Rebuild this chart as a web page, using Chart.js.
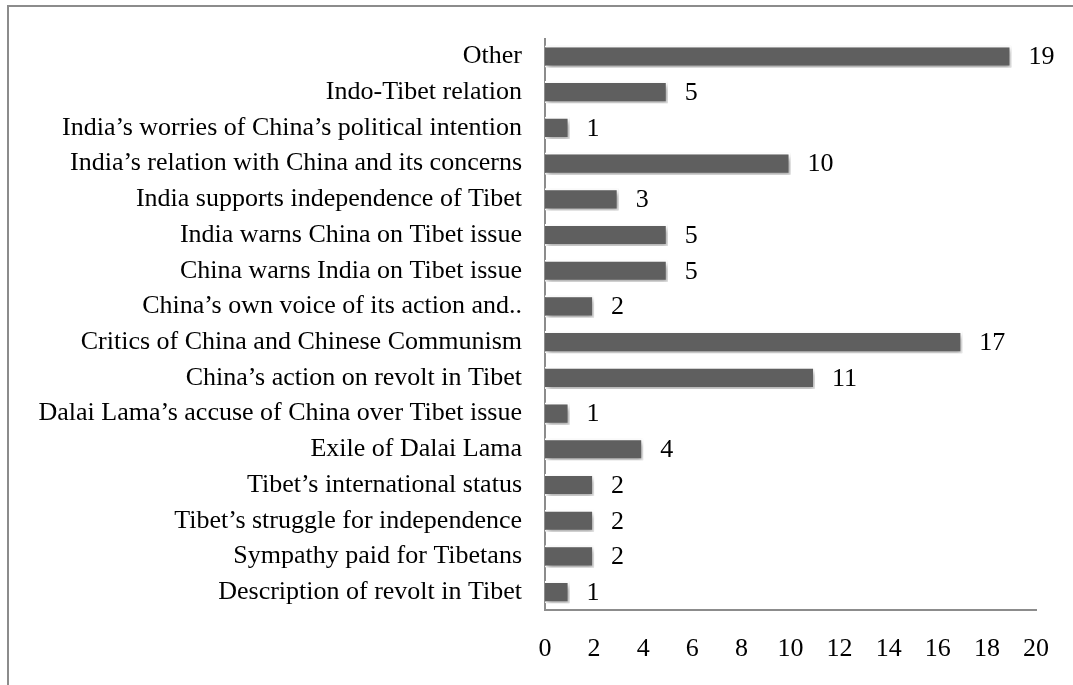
<!DOCTYPE html>
<html>
<head>
<meta charset="utf-8">
<script src="https://cdn.jsdelivr.net/npm/chart.js@4/dist/chart.umd.min.js"></script>
<style>
  html, body { margin: 0; padding: 0; background: #fff; }
  #wrap { position: relative; width: 1073px; height: 685px; overflow: hidden; }
  #frame { position: absolute; left: 7px; top: 5px; width: 1100px; height: 700px;
           border-left: 2px solid #8c8c8c; border-top: 2px solid #8c8c8c; }
  canvas { position: absolute; left: 0; top: 0; }
</style>
</head>
<body>
<div id="wrap">
  <div id="frame"></div>
  <canvas id="topicChart" width="1073" height="685"></canvas>
</div>
<script>
const topics = [
    'Other',
    'Indo-Tibet relation',
    'India’s worries of China’s political intention',
    'India’s relation with China and its concerns',
    'India supports independence of Tibet',
    'India warns China on Tibet issue',
    'China warns India on Tibet issue',
    'China’s own voice of its action and..',
    'Critics of China and Chinese Communism',
    'China’s action on revolt in Tibet',
    'Dalai Lama’s accuse of China over Tibet issue',
    'Exile of Dalai Lama',
    'Tibet’s international status',
    'Tibet’s struggle for independence',
    'Sympathy paid for Tibetans',
    'Description of revolt in Tibet',
];
const counts = [19, 5, 1, 10, 3, 5, 5, 2, 17, 11, 1, 4, 2, 2, 2, 1];
const axisMin = 0;
const axisMax = 20;
const axisStep = 2;

const serif = "'Liberation Serif', 'DejaVu Serif', serif";
const fontSize = 26;

// soft drop shadow behind the bars
const barShadow = {
    id: 'barShadow',
    beforeDatasetsDraw(chart) {
        const c = chart.ctx;
        c.save();
        c.shadowColor = 'rgba(0, 0, 0, 0.35)';
        c.shadowBlur = 5;
        c.shadowOffsetX = 2;
        c.shadowOffsetY = 3;
    },
    afterDatasetsDraw(chart) {
        chart.ctx.restore();
    },
};

// value printed to the right of every bar
const valueLabels = {
    id: 'valueLabels',
    afterDatasetsDraw(chart) {
        const c = chart.ctx;
        const meta = chart.getDatasetMeta(0);
        c.save();
        c.font = fontSize + 'px ' + serif;
        c.fillStyle = '#000';
        c.textAlign = 'left';
        c.textBaseline = 'middle';
        meta.data.forEach((bar, i) => {
            c.fillText(String(counts[i]), bar.x + 17, bar.y + 1);
        });
        c.restore();
    },
};

const ctx = document.getElementById('topicChart').getContext('2d');
const topicChart = new Chart(ctx, {
    type: 'bar',
    data: {
        labels: topics,
        datasets: [{
            data: counts,
            backgroundColor: '#5f5f5f',
            borderColor: '#ffffff',
            borderWidth: 2,
            barPercentage: 0.62,
            categoryPercentage: 1,
        }],
    },
    options: {
        indexAxis: 'y',
        responsive: false,
        animation: false,
        layout: { padding: { top: 22, right: 36, bottom: 0, left: 0 } },
        plugins: {
            legend: { display: false },
            tooltip: { enabled: false },
        },
        scales: {
            x: {
                min: axisMin,
                max: axisMax,
                grid: { display: false, drawTicks: false },
                border: { display: true, color: '#8c8c8c', width: 2 },
                ticks: {
                    stepSize: axisStep,
                    padding: 24,
                    color: '#000',
                    font: { family: serif, size: fontSize },
                },
                afterFit(scale) { scale.height = 75; },
            },
            y: {
                grid: { display: false, drawTicks: false },
                border: { display: true, color: '#8c8c8c', width: 2 },
                ticks: {
                    padding: 23,
                    autoSkip: false,
                    color: '#000',
                    font: { family: serif, size: fontSize },
                },
                afterFit(scale) { scale.width = 545; },
            },
        },
    },
    plugins: [barShadow, valueLabels],
});
</script>
</body>
</html>
